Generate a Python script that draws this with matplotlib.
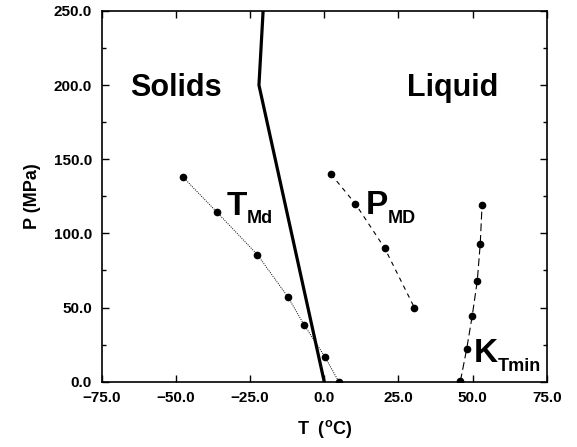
import matplotlib
matplotlib.use('Agg')
import matplotlib.pyplot as plt

plt.rcParams['font.family'] = ['Liberation Sans', 'DejaVu Sans']
plt.rcParams['mathtext.fontset'] = 'custom'
plt.rcParams['mathtext.rm'] = 'Liberation Sans:bold'
plt.rcParams['mathtext.bf'] = 'Liberation Sans:bold'

# linha de fusao do gelo (solida grossa)
melt_T = [0.0, -22.0, -20.6]
melt_P = [0.0, 200.0, 250.0]

# temperatura de maxima densidade (pontilhada)
tmd_T = [-47.7, -36.1, -22.5, -12.2, -6.7, 0.3, 4.9]
tmd_P = [138.2, 114.2, 85.6, 57.0, 38.1, 16.6, 0.0]

# pressao de maxima densidade (tracejada)
pmd_T = [2.3, 10.5, 20.4, 30.4]
pmd_P = [139.9, 120.0, 90.0, 49.9]

# minimo da compressibilidade (tracejada longa)
kt_T = [45.9, 48.0, 49.9, 51.6, 52.6, 53.2]
kt_P = [0.3, 21.8, 44.5, 68.1, 93.1, 118.9]

xticks = [-75, -50, -25, 0, 25, 50, 75]
yticks = [0, 50, 100, 150, 200, 250]

fig = plt.figure(figsize=(5.77, 4.47), dpi=100)
ax = fig.add_axes([0.1763, 0.1461, 0.7712, 0.8293])

ax.plot(melt_T, melt_P, color='black', lw=2.3, solid_joinstyle='miter')
ax.plot(tmd_T, tmd_P, color='black', lw=0.7, ls=(0, (1, 1.3)),
        marker='o', ms=4.5)
ax.plot(pmd_T, pmd_P, color='black', lw=0.8, ls=(0, (4, 4)),
        marker='o', ms=4.5)
ax.plot(kt_T, kt_P, color='black', lw=0.8, ls=(0, (7, 3.5)),
        marker='o', ms=4.5)

ax.set_xlim(-75, 75)
ax.set_ylim(0, 250)
ax.set_xticks(xticks)
ax.set_yticks(yticks)
ax.set_yticks(range(25, 250, 50), minor=True)
ax.set_xticklabels([f'{v:.1f}'.replace('-', '\u2212') for v in xticks])
ax.set_yticklabels([f'{v:.1f}' for v in yticks])
ax.tick_params(which='both', direction='in', top=True, right=True,
               labelsize=11, width=1.0)
ax.tick_params(which='major', length=5, pad=7)
ax.tick_params(which='minor', length=3)
for lbl in ax.get_xticklabels() + ax.get_yticklabels():
    lbl.set_fontweight('bold')
for s in ax.spines.values():
    s.set_linewidth(1.2)

ax.set_xlabel(r'T  ($^{\mathrm{o}}$C)', fontsize=13, fontweight='bold', labelpad=9)
ax.set_ylabel('P (MPa)', fontsize=13, fontweight='bold', labelpad=9)

ax.text(-65.5, 193, 'Solids', fontsize=22, fontweight='bold')
ax.text(27.8, 193, 'Liquid', fontsize=22, fontweight='bold')

ax.text(-32.8, 112.4, 'T', fontsize=24, fontweight='bold')
ax.text(-26.0, 107.0, 'Md', fontsize=13, fontweight='bold')
ax.text(14.0, 112.9, 'P', fontsize=24, fontweight='bold')
ax.text(21.3, 106.8, 'MD', fontsize=13, fontweight='bold')
ax.text(50.3, 13.5, 'K', fontsize=24, fontweight='bold')
ax.text(58.6, 7.4, 'Tmin', fontsize=13, fontweight='bold')

fig.savefig('out.png', dpi=100)
